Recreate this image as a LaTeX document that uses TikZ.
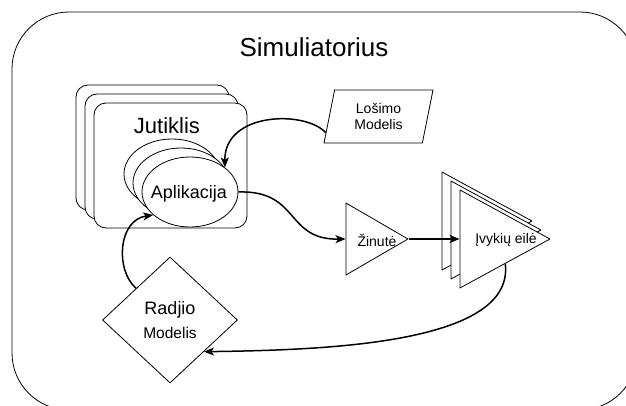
\documentclass[tikz,border=0pt]{standalone}
\usepackage{fontspec}
\setmainfont{Liberation Sans}
\usetikzlibrary{shapes.geometric,arrows.meta,calc}

\begin{document}
\begin{tikzpicture}[x=1pt,y=-1pt,line join=round,
  box/.style={draw,line width=0.8pt,fill=white,inner sep=0pt},
  card/.style={box,rectangle,rounded corners=12pt,minimum width=153pt,minimum height=125pt},
  app/.style={box,ellipse,minimum width=96pt,minimum height=70pt},
  wedge/.style={box,isosceles triangle,isosceles triangle stretches,anchor=apex},
  link/.style={line width=1.5pt,-{Stealth[length=10pt,width=8pt,inset=2.5pt]}},
  lbl/.style={inner sep=0pt,font=\fontsize{14}{16}\selectfont,align=center}]
\useasboundingbox (0,0) rectangle (626,406);
\begin{scope}
  \clip (0,0) rectangle (626,406);
  \draw[line width=0.8pt,rounded corners=57pt] (12,12) rectangle (637,410);
\end{scope}
\node[inner sep=0pt,font=\fontsize{26}{28}\selectfont] (sim) at (314,47) {Simuliatorius};

\foreach \i in {2,1,0} {
  \node[card] (jut\i) at (170.5-9*\i,165.5-9*\i) {};
}
\node[inner sep=0pt,font=\fontsize{22}{24}\selectfont] (jutlbl) at (167,126) {Jutiklis};
\foreach \i in {2,1,0} {
  \node[app] (app\i) at (190-9*\i,192-9*\i) {};
}
\node[inner sep=0pt,font=\fontsize{18}{20}\selectfont] (applbl) at (189,194) {Aplikacija};

\node[box,trapezium,trapezium left angle=68,trapezium right angle=112,
  trapezium stretches body,minimum width=109pt,minimum height=53pt,lbl] (los) at (378.5,116.5) {Lošimo\\Modelis};

\node[wedge,minimum height=62pt,minimum width=72pt] (zin) at (409,239) {};
\node[lbl] (zinlbl) at (377,240) {Žinutė};
\foreach \i in {2,1,0} {
  \node[wedge,minimum height=90pt,minimum width=98pt] (evt\i) at (551-9*\i,239-9*\i) {};
}
\node[lbl] (evtlbl) at (506,240) {Įvykių eilė};

\node[box,diamond,minimum width=135pt,minimum height=126pt,align=center] (rad) at (170,320)
  {\fontsize{18}{20}\selectfont Radjio\\[8pt]\fontsize{15.5}{17}\selectfont Modelis};

\draw[link] (los.197) .. controls (305,110) and (224,112) .. (app0.35);
\draw[link] (app0.east) .. controls (300,190) and (285,240) .. (zin.west);
\draw[link] (zin.apex) -- (evt0.west);
\draw[link] ($(evt0.apex)!0.5!(evt0.right corner)$) .. controls (515,345) and (320,350) .. (rad.south east);
\draw[link] (rad.north west) .. controls (115,270) and (118,220) .. (app0.212);
\end{tikzpicture}
\end{document}
